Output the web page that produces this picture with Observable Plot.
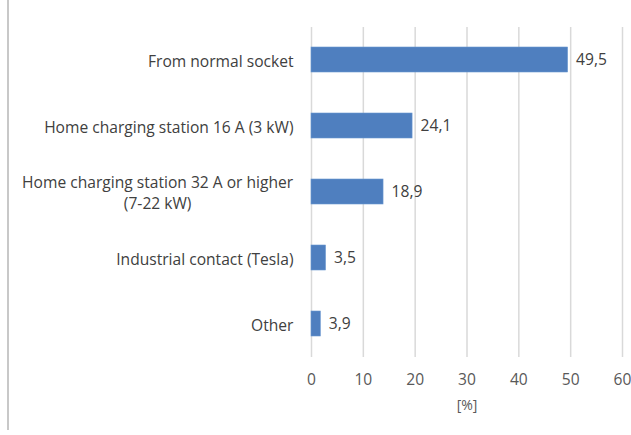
<!DOCTYPE html>
<html>
<head>
<meta charset="utf-8">
<script src="https://cdn.jsdelivr.net/npm/d3@7"></script>
<script src="https://cdn.jsdelivr.net/npm/@observablehq/plot@0.6"></script>
<style>
  html, body { margin: 0; padding: 0; background: #fff; }
  #wrap { position: relative; width: 631px; height: 435px; }
  #edge { position: absolute; left: 7px; top: 0; width: 2px; height: 430px; background: #c8c8c8; }
</style>
</head>
<body>
<div id="wrap"><div id="edge"></div></div>
<script>
// Categories (top to bottom)
const categories = [
  "From normal socket",
  "Home charging station 16 A (3 kW)",
  "Home charging station 32 A or higher\n(7-22 kW)",
  "Industrial contact (Tesla)",
  "Other"
];
// Bar lengths as drawn in the picture (%)
const barValues = [49.5, 19.5, 13.9, 2.8, 1.8];
// Data labels as printed
const valueLabels = ["49,5", "24,1", "18,9", "3,5", "3,9"];
// Axis ticks
const xTicks = [0, 10, 20, 30, 40, 50, 60];
const xLabel = "[%]";

const data = categories.map((c, i) => ({cat: c, v: barValues[i], lab: valueLabels[i]}));

const font = "'Open Sans', 'Noto Sans', sans-serif";
const fs = 15.6;

const chart = Plot.plot({
  width: 631,
  height: 435,
  marginTop: 27,
  marginBottom: 78,
  marginLeft: 311,
  marginRight: 9,
  style: {fontFamily: font, fontSize: fs + "px", color: "#595959", background: "transparent"},
  x: {domain: [0, 60], ticks: xTicks},
  y: {domain: categories, paddingInner: 0.62, paddingOuter: 0.31},
  marks: [
    Plot.gridX(xTicks, {stroke: "#d9d9d9", strokeOpacity: 1, strokeWidth: 1.5}),
    Plot.barX(data, {x: "v", y: "cat", fill: "#4f7fbf", stroke: "#6a97d0", strokeWidth: 0.6}),
    Plot.text(data, {x: "v", y: "cat", text: "lab", textAnchor: "start", dx: 8, fill: "#404040", fontSize: fs}),
    Plot.axisX(xTicks, {tickSize: 0, tickPadding: 16, fontSize: fs, fill: "#595959", label: null}),
    Plot.text([xLabel], {frameAnchor: "bottom", dy: 52, fill: "#595959", fontSize: 14, text: d => d}),
    Plot.axisY({tickSize: 0, tickPadding: 18, fontSize: fs, fill: "#404040", label: null, lineHeight: 1.35})
  ]
});

document.getElementById("wrap").appendChild(chart);
chart.style.position = "absolute";
chart.style.left = "0";
chart.style.top = "0";

// center the continuation lines of multi-line category labels under the first line
chart.querySelectorAll("g[aria-label='y-axis tick label'] text").forEach(t => {
  const spans = t.querySelectorAll("tspan");
  if (spans.length > 1) {
    const w = t.getBBox().width;
    t.setAttribute("text-anchor", "middle");
    spans.forEach(s => { s.setAttribute("x", String(+(s.getAttribute("x") || 0) - w / 2)); });
  }
});
</script>
</body>
</html>
